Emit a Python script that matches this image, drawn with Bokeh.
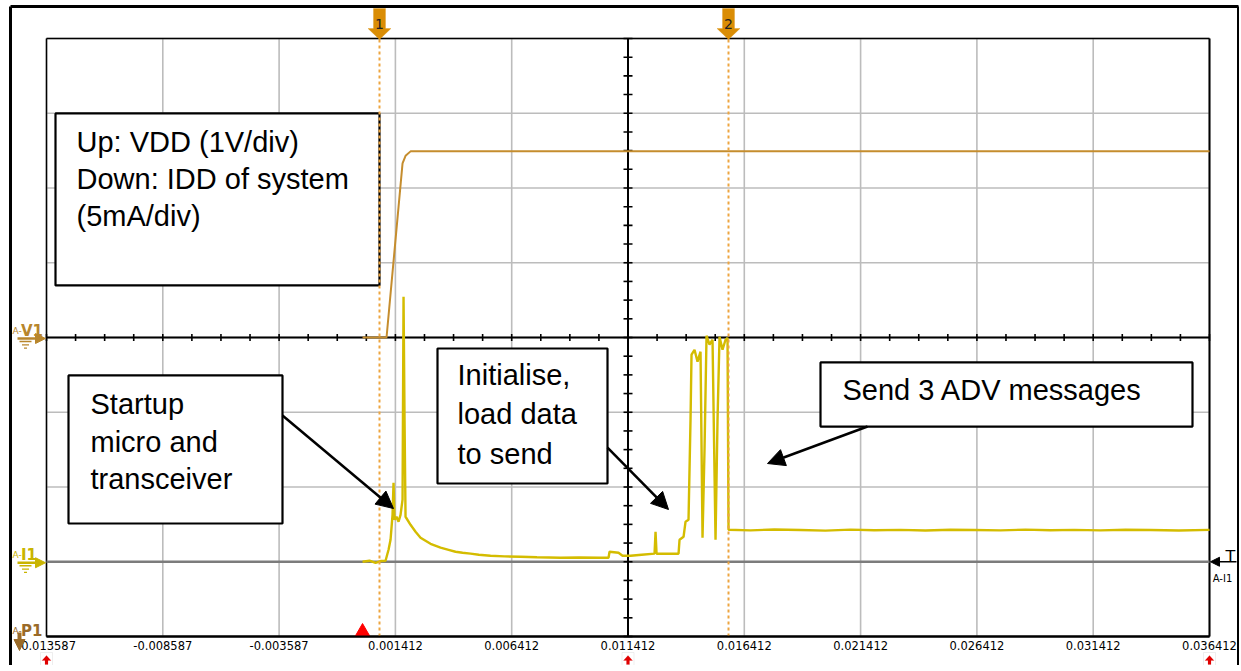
import numpy as np
from bokeh.plotting import figure
from bokeh.models import (Range1d, FixedTicker, Label, Arrow, NormalHead,
                          PolyAnnotation)
from bokeh.core.properties import value
from bokeh.embed import file_html
from bokeh.resources import INLINE

# ---------------- data (read from the scope capture) ----------------
# VDD trace: time in ms, volts
vdd_time_ms = [0.000, 1.032, 1.720, 1.849, 2.064, 36.414]
vdd_volts = [0.00, 0.00, 2.33, 2.43, 2.49, 2.49]

# IDD trace: time in ms, milliamps
idd_time_ms = [
    0.000, 0.300, 0.559, 0.800, 0.989, 1.118, 1.204, 1.290, 1.333, 1.376,
    1.462, 1.548, 1.634, 1.720, 1.763, 1.806, 1.849, 2.064, 2.279, 2.494,
    2.923, 3.353, 3.700, 3.998, 4.300, 4.643, 5.000, 5.503, 6.100, 6.793,
    7.500, 8.512, 9.300, 10.232, 10.576, 10.619, 11.006, 11.178, 11.522, 12.000,
    12.554, 12.597, 12.640, 13.100, 13.586, 13.629, 13.801, 13.887, 14.015, 14.101,
    14.144, 14.273, 14.402, 14.531, 14.617, 14.703, 14.789, 14.918, 15.047, 15.176,
    15.262, 15.348, 15.477, 15.606, 15.692, 15.735, 16.681, 17.700, 18.831, 19.900,
    20.980, 22.000, 23.130, 24.200, 25.279, 26.300, 27.429, 28.500, 29.579, 30.600,
    31.728, 32.800, 33.878, 35.100, 36.414,
]
idd_mA = [
    0.00, 0.07, -0.07, 0.05, 0.07, 0.80, 1.47, 3.14, 5.28, 2.81,
    3.01, 2.68, 3.14, 4.15, 17.73, 9.50, 3.01, 2.47, 2.01, 1.61,
    1.20, 0.94, 0.80, 0.67, 0.60, 0.54, 0.47, 0.40, 0.36, 0.33,
    0.30, 0.27, 0.28, 0.27, 0.27, 0.67, 0.60, 0.40, 0.40, 0.47,
    0.54, 2.01, 0.54, 0.54, 0.54, 1.47, 1.67, 2.68, 2.81, 9.50,
    13.85, 14.18, 13.38, 14.05, 1.61, 7.49, 15.12, 14.52, 14.85, 1.47,
    9.50, 15.05, 14.18, 14.85, 14.98, 2.14, 2.10, 2.16, 2.12, 2.08,
    2.15, 2.11, 2.13, 2.09, 2.14, 2.12, 2.10, 2.15, 2.11, 2.13,
    2.10, 2.14, 2.12, 2.09, 2.13,
]

cursor_times = [0.000729, 0.015734]
cursor_names = ["1", "2"]
trigger_time = 0.0

tick_values = [-0.013587, -0.008587, -0.003587, 0.001413, 0.006413, 0.011413,
               0.016413, 0.021413, 0.026413, 0.031413, 0.036413]
tick_labels = ["-0.013587", "-0.008587", "-0.003587", "0.001412", "0.006412",
               "0.011412", "0.016412", "0.021412", "0.026412", "0.031412", "0.036412"]
volt_divisions = [-4, -3, -2, -1, 0, 1, 2, 3, 4]

# annotation boxes (seconds / volts on the V1 scale)
box_left = [-0.013200, -0.012641, 0.003223, 0.019689]
box_right = [0.000729, -0.003441, 0.010532, 0.035682]
box_top = [2.997, -0.508, -0.147, -0.334]
box_bottom = [0.696, -2.488, -1.953, -1.191]

note_text = ["Up: VDD (1V/div)", "Down: IDD of system", "(5mA/div)",
             "Startup", "micro and", "transceiver",
             "Initialise,", "load data", "to send",
             "Send 3 ADV messages"]
note_x = [-0.012297, -0.012297, -0.012297,
          -0.011695, -0.011695, -0.011695,
          0.004083, 0.004083, 0.004083,
          0.020635]
note_y = [2.622, 2.127, 1.632,
          -0.883, -1.404, -1.899,
          -0.508, -1.030, -1.552,
          -0.709]

arrow_x0 = [-0.003441, 0.010532, 0.021710]
arrow_y0 = [-1.043, -1.472, -1.191]
arrow_x1 = [0.001331, 0.013154, 0.017410]
arrow_y1 = [-2.288, -2.301, -1.686]

# ---------------- geometry ----------------
W, H = 1239, 665
X0, X1 = tick_values[0], tick_values[-1]
V_BOT, V_TOP = volt_divisions[0], volt_divisions[-1]
SX = (X1 - X0) / 1163          # seconds per pixel
SV = (V_TOP - V_BOT) / 598     # volts per pixel
SI = 5 * SV                    # mA per pixel (5 mA/div vs 1 V/div)

def cx(c):      # canvas x pixel -> seconds
    return X0 + (c - 46) * SX

def cv(c):      # canvas y pixel -> volts
    return V_TOP - (c - 38) * SV

I_TOP = 35.0
def ci(c):      # canvas y pixel -> mA
    return I_TOP - (c - 38) * SI

p = figure(width=W, height=H,
           x_range=Range1d(cx(0), cx(W)), y_range=Range1d(cv(H), cv(0)),
           x_axis_location="below", y_axis_location=None,
           output_backend="svg", toolbar_location=None, min_border=0,
           background_fill_color="white", border_fill_color="white")
p.extra_y_ranges = {"idd": Range1d(ci(H), ci(0))}
p.outline_line_color = None
p.grid.visible = False

# time axis drawn at the bottom edge of the screen area
ax = p.xaxis[0]
ax.fixed_location = V_BOT
ax.bounds = (X0, X1)
ax.ticker = FixedTicker(ticks=tick_values, minor_ticks=[])
ax.major_label_overrides = dict(zip(tick_values, tick_labels))
ax.major_tick_out = 0
ax.major_tick_in = 0
ax.minor_tick_out = 0
ax.minor_tick_in = 0
ax.axis_line_color = "black"
ax.axis_line_width = 2
ax.major_label_text_font = "DejaVu Sans"
ax.major_label_text_font_size = "11.5px"
ax.major_label_text_color = "black"
ax.major_label_standoff = 4

# screen grid
GRID = "#bcbcbc"
p.segment(x0=tick_values, x1=tick_values, y0=[V_BOT] * 11, y1=[V_TOP] * 11,
          line_color=GRID, line_width=1.6)
p.segment(x0=[X0] * 9, x1=[X1] * 9, y0=volt_divisions, y1=volt_divisions,
          line_color=GRID, line_width=1.6)
# screen border
p.segment(x0=[X0, X0, X1, X0], x1=[X1, X0, X1, X1], y0=[V_TOP, V_BOT, V_BOT, V_BOT],
          y1=[V_TOP, V_TOP, V_TOP, V_BOT], line_color="black",
          line_width=[1.5, 1.5, 2, 2])

# centre cross and I1 ground
center_t = tick_values[5]
p.segment(x0=[X0], x1=[X1], y0=[0], y1=[0], y_range_name="idd",
          line_color="#7c7c7c", line_width=2.5)
p.segment(x0=[center_t, X0], x1=[center_t, X1], y0=[V_BOT, 0], y1=[V_TOP, 0],
          line_color="black", line_width=2)
cross_v = np.arange(V_BOT, V_TOP + 0.001, 0.25)
cross_t = X0 + np.arange(41) * 0.00125
p.scatter(x=[center_t] * len(cross_v), y=cross_v, marker="dash", size=9,
          line_color="black", line_width=1.6)
p.scatter(x=cross_t, y=[0] * len(cross_t), marker="dash", angle=np.pi / 2, size=7,
          line_color="black", line_width=1.6)

# traces
p.line(x=np.array(vdd_time_ms) / 1000, y=vdd_volts, line_color="#C58D2E", line_width=2)
p.line(x=np.array(idd_time_ms) / 1000, y=idd_mA, y_range_name="idd",
       line_color="#D4BC00", line_width=2.4)

# trigger mark
p.scatter(x=[trigger_time], y=[V_BOT + 4.3 * SV], marker="triangle", size=15,
          fill_color="#FF0000", line_color="#FF0000")

# annotation boxes and texts
p.quad(left=box_left, right=box_right, top=box_top, bottom=box_bottom,
       fill_color="white", line_color="black", line_width=2.2)
p.text(x=note_x, y=note_y, text=note_text, text_font=value("Liberation Sans"),
       text_font_size="29px", text_color="black", text_baseline="alphabetic",
       text_align="left")

# cursors
n_c = len(cursor_times)
p.segment(x0=cursor_times, x1=cursor_times, y0=[V_BOT] * n_c, y1=[V_TOP] * n_c,
          line_color="#EDA540", line_width=2, line_dash="3 3")

for xs, ys, xe, ye in zip(arrow_x0, arrow_y0, arrow_x1, arrow_y1):
    p.add_layout(Arrow(x_start=xs, y_start=ys, x_end=xe, y_end=ye,
                       line_color="black", line_width=2.5,
                       end=NormalHead(size=17, fill_color="black", line_color="black")))

for ct, name in zip(cursor_times, cursor_names):
    xs = [ct - 6 * SX, ct + 6 * SX, ct + 6 * SX, ct + 11.5 * SX, ct,
          ct - 11.5 * SX, ct - 6 * SX]
    ys = [cv(8), cv(8), cv(28), cv(28), cv(39), cv(28), cv(28)]
    p.add_layout(PolyAnnotation(xs=xs, ys=ys, fill_color="#DA8D05", fill_alpha=1,
                                line_color="#DA8D05", line_width=1))
    p.add_layout(Label(x=ct, y=cv(23), text=name, text_font="DejaVu Sans",
                       text_font_size="14px", text_color="#222222",
                       text_align="center", text_baseline="alphabetic"))

# channel tags at the left
def channel_tag(name, color, y0, per_px, rng):
    p.add_layout(Label(x=cx(12), y=y0 + 7 * per_px, text="A-", text_font="DejaVu Sans",
                       text_font_size="9px", text_color=color, text_baseline="alphabetic",
                       y_range_name=rng))
    p.add_layout(Label(x=cx(20.5), y=y0 + 7 * per_px, text=name, text_font="DejaVu Sans",
                       text_font_size="15px", text_font_style="bold", text_color=color,
                       text_baseline="alphabetic", y_range_name=rng))
    p.add_layout(Arrow(x_start=cx(17), y_start=y0 - 1 * per_px, x_end=cx(45),
                       y_end=y0 - 1 * per_px, line_color=color, line_width=2.5,
                       end=NormalHead(size=10, fill_color=color, line_color=color),
                       y_range_name=rng))
    for k, (a, b) in enumerate([(19, 31), (21.5, 28.5), (23.5, 26.5)]):
        yy = y0 - (4 + 3.3 * k) * per_px
        p.add_layout(Arrow(x_start=cx(a), y_start=yy, x_end=cx(b), y_end=yy,
                           end=None, line_color=color, line_width=1.3, y_range_name=rng))

channel_tag("V1", "#B8862C", 0.0, SV, "default")
channel_tag("I1", "#C9B400", 0.0, SI, "idd")

P1_COLOR = "#9A6A28"
p.add_layout(Label(x=cx(12), y=cv(630), text="A-", text_font="DejaVu Sans",
                   text_font_size="9px", text_color=P1_COLOR, text_baseline="alphabetic"))
p.add_layout(Label(x=cx(20.5), y=cv(630), text="P1", text_font="DejaVu Sans",
                   text_font_size="15px", text_font_style="bold", text_color=P1_COLOR,
                   text_baseline="alphabetic"))
p.add_layout(Arrow(x_start=cx(19), y_start=cv(632), x_end=cx(19), y_end=cv(650),
                   line_color=P1_COLOR, line_width=4,
                   end=NormalHead(size=11, fill_color=P1_COLOR, line_color=P1_COLOR)))

# trigger-level tag at the right
p.add_layout(Label(x=cx(1230), y=5 * SI, text="T", text_font="DejaVu Sans",
                   text_font_size="16px", text_color="black", text_align="center",
                   text_baseline="alphabetic", y_range_name="idd"))
p.add_layout(Arrow(x_start=cx(1236), y_start=0, x_end=cx(1210), y_end=0,
                   line_color="black", line_width=1.5,
                   end=NormalHead(size=9, fill_color="black", line_color="black"),
                   y_range_name="idd"))
p.add_layout(Label(x=cx(1222), y=-17 * SI, text="A-I1", text_font="DejaVu Sans",
                   text_font_size="10px", text_color="black", text_align="center",
                   text_baseline="alphabetic", y_range_name="idd"))

# small red markers under the time axis
for mt in [X0, center_t, X1]:
    p.add_layout(PolyAnnotation(xs=[mt - 6 * SX, mt + 6 * SX, mt + 6 * SX, mt - 6 * SX],
                                ys=[cv(652), cv(652), cv(666), cv(666)],
                                fill_color="white", fill_alpha=1,
                                line_color="#c8c8c8", line_width=1))
    p.add_layout(PolyAnnotation(xs=[mt, mt + 4.5 * SX, mt + 1.5 * SX, mt + 1.5 * SX,
                                    mt - 1.5 * SX, mt - 1.5 * SX, mt - 4.5 * SX],
                                ys=[cv(655), cv(660), cv(660), cv(664),
                                    cv(664), cv(660), cv(660)],
                                fill_color="#E00000", fill_alpha=1,
                                line_color="#E00000", line_width=0.5))

# outer frame of the capture
p.segment(x0=[cx(10), cx(10), cx(1238)], x1=[cx(1238), cx(10), cx(1238)],
          y0=[cv(6), cv(6), cv(6)], y1=[cv(6), cv(700), cv(700)],
          line_color="black", line_width=3)

open("out.html", "w").write(file_html(p, INLINE))
